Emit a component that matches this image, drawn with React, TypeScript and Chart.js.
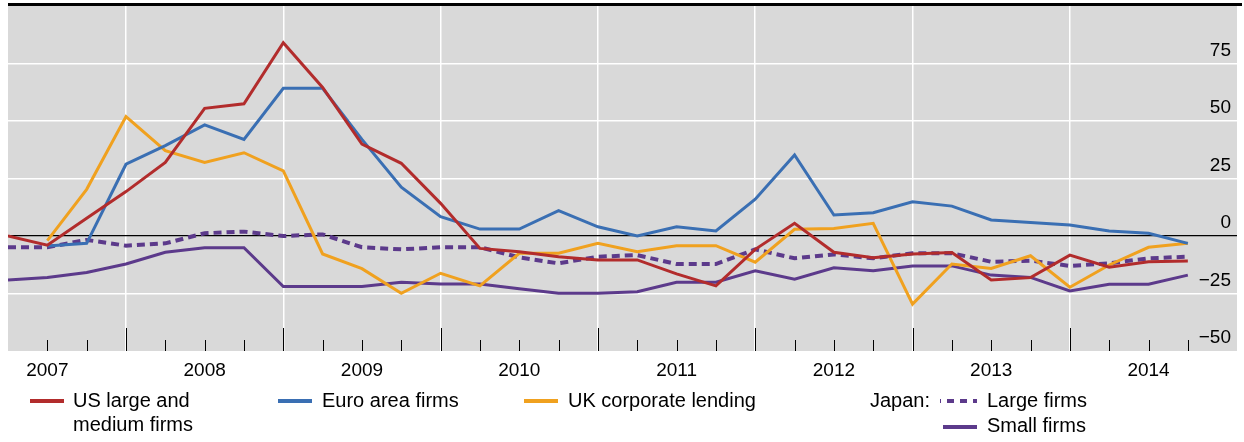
import React, { useEffect, useRef } from 'react';
import { Chart, registerables } from 'chart.js';

Chart.register(...registerables);

// Quarterly observations, 2007 to 2014 (index 0 = first quarter shown)
const yearLabels = ['2007', '2008', '2009', '2010', '2011', '2012', '2013', '2014'];

const usLargeMedium = [
  0, -4, 7.7, 19.3, 32, 55.5, 57.5, 84, 64.6, 40, 31.6,
  14.2, -5.4, -6.8, -9, -10.4, -10.4, -16.5, -21.7, -5.8, 5.5,
  -7.1, -9.4, -7.8, -7.2, -19.1, -18.1, -8.3, -13.6, -11.2, -10.9,
];
const euroAreaFirms = [
  null, -4.3, -3.2, 31.2, 39.3, 48.3, 42, 64.2, 64.2, 42, 21.2,
  8.4, 3, 3, 11, 4, 0, 4, 2.2, 16, 35.2,
  9.1, 10.1, 14.9, 13, 7, 5.9, 4.8, 2.2, 1.2, -3.2,
];
const ukCorporateLending = [
  null, -2, 20.3, 51.9, 37.1, 32, 36.2, 28.3, -7.8, -14.2, -24.9,
  -16.2, -21.7, -7.5, -7.5, -3.2, -6.8, -4.2, -4.2, -11.4, 2.9,
  3.3, 5.5, -29.6, -12.2, -14.1, -8.6, -22.3, -12.6, -4.9, -3.2,
];
const japanLargeFirms = [
  -4.9, -4.9, -1.7, -4.2, -3.2, 1.2, 1.9, 0, 0.7, -4.9, -5.8,
  -4.9, -4.9, -9.3, -11.9, -9, -8.3, -12.2, -12.2, -5.8, -9.7,
  -8, -9.7, -7.5, -7.5, -11.2, -10.7, -13, -11.9, -9.7, -9,
];
const japanSmallFirms = [
  -19.1, -18, -15.9, -12.2, -7.1, -5.1, -5.1, -22, -22, -22, -20.1,
  -20.9, -20.9, -22.9, -24.9, -24.9, -24.2, -20.1, -20.1, -15.1, -18.8,
  -13.8, -15.1, -13, -13, -17, -18, -23.9, -21, -21, -17,
];

const yMin = -50;
const yMax = 100;
const yStep = 25;

const RED = '#b22c2c';
const BLUE = '#3a6fb3';
const ORANGE = '#f0a11f';
const PURPLE = '#5c3a8b';
const FONT = '"Liberation Sans", Arial, Helvetica, sans-serif';

const toPoints = (arr: (number | null)[]) => arr.map((v, i) => ({ x: i, y: v }));

const decorPlugin = {
  id: 'decor',
  beforeDraw(chart: any) {
    const { ctx, chartArea: a } = chart;
    ctx.save();
    ctx.fillStyle = '#d9d9d9';
    ctx.fillRect(a.left, a.top, a.right - a.left, a.bottom - a.top);
    ctx.restore();
  },
  beforeDatasetsDraw(chart: any) {
    const { ctx, chartArea: a } = chart;
    const xs = chart.scales.x;
    ctx.save();
    ctx.strokeStyle = '#000';
    ctx.lineWidth = 1;
    ctx.beginPath();
    for (let i = 1; i < usLargeMedium.length; i++) {
      const px = Math.round(xs.getPixelForValue(i)) + 0.5;
      const len = i % 4 === 3 ? 23 : 11;
      ctx.moveTo(px, a.bottom);
      ctx.lineTo(px, a.bottom - len);
    }
    ctx.stroke();
    ctx.restore();
  },
  afterDraw(chart: any) {
    const { ctx, chartArea: a } = chart;
    ctx.save();
    // top rule
    ctx.fillStyle = '#000';
    ctx.fillRect(a.left, 3, 1242 - a.left, 3);

    // legend
    const swatch = (x1: number, x2: number, y: number, color: string, dash?: number[]) => {
      ctx.beginPath();
      ctx.strokeStyle = color;
      ctx.lineWidth = 4;
      ctx.lineCap = 'butt';
      ctx.setLineDash(dash || []);
      ctx.moveTo(x1, y);
      ctx.lineTo(x2, y);
      ctx.stroke();
      ctx.setLineDash([]);
    };
    ctx.font = `20px ${FONT}`;
    ctx.fillStyle = '#000';
    ctx.textAlign = 'left';
    ctx.textBaseline = 'alphabetic';

    swatch(30, 64, 401, RED);
    ctx.fillText('US large and', 73, 407);
    ctx.fillText('medium firms', 73, 431);

    swatch(278, 312, 401, BLUE);
    ctx.fillText('Euro area firms', 322, 407);

    swatch(524, 558, 401, ORANGE);
    ctx.fillText('UK corporate lending', 568, 407);

    ctx.fillText('Japan:', 870, 407);
    ctx.lineDashOffset = 6;
    swatch(940, 977, 401, PURPLE, [7, 6]);
    ctx.lineDashOffset = 0;
    ctx.fillText('Large firms', 987, 407);

    swatch(943, 977, 427, PURPLE);
    ctx.fillText('Small firms', 987, 432);
    ctx.restore();
  },
};

export default function App() {
  const canvasRef = useRef<HTMLCanvasElement | null>(null);

  useEffect(() => {
    if (!canvasRef.current) return;
    Chart.defaults.font.family = FONT;
    const chart = new Chart(canvasRef.current, {
      type: 'line',
      data: {
        datasets: [
          {
            label: 'US large and medium firms',
            data: toPoints(usLargeMedium),
            borderColor: RED,
            borderWidth: 3,
          },
          {
            label: 'Euro area firms',
            data: toPoints(euroAreaFirms),
            borderColor: BLUE,
            borderWidth: 3,
          },
          {
            label: 'UK corporate lending',
            data: toPoints(ukCorporateLending),
            borderColor: ORANGE,
            borderWidth: 3,
          },
          {
            label: 'Japan: Large firms',
            data: toPoints(japanLargeFirms),
            borderColor: PURPLE,
            borderWidth: 4,
            borderDash: [8, 5],
          },
          {
            label: 'Japan: Small firms',
            data: toPoints(japanSmallFirms),
            borderColor: PURPLE,
            borderWidth: 3,
          },
        ],
      },
      options: {
        animation: false,
        responsive: false,
        maintainAspectRatio: false,
        devicePixelRatio: 1,
        spanGaps: false,
        elements: {
          point: { radius: 0, hoverRadius: 0 },
          line: { tension: 0, fill: false, borderCapStyle: 'butt', borderJoinStyle: 'miter' },
        },
        layout: { padding: { left: 8, right: 7, top: 6, bottom: 0 } },
        plugins: {
          legend: { display: false },
          tooltip: { enabled: false },
          title: { display: false },
        },
        scales: {
          x: {
            type: 'linear',
            min: 0,
            max: 31.25,
            border: { display: false },
            grid: {
              drawTicks: false,
              lineWidth: 1.5,
              color: (ctx: any) =>
                ctx.tick && Number.isInteger(ctx.tick.value) && ctx.tick.value % 4 === 3
                  ? '#ffffff'
                  : 'rgba(0,0,0,0)',
            },
            ticks: {
              stepSize: 1,
              autoSkip: false,
              maxRotation: 0,
              minRotation: 0,
              padding: 8,
              color: '#000',
              font: { size: 19, family: FONT },
              callback: (value: any) => {
                const v = Number(value);
                if (!Number.isInteger(v) || (v - 1) % 4 !== 0) return '';
                return yearLabels[(v - 1) / 4] ?? '';
              },
            },
            afterFit: (scale: any) => {
              scale.height = 91;
              scale.paddingLeft = 0;
              scale.paddingRight = 0;
            },
          },
          y: {
            type: 'linear',
            position: 'right',
            min: yMin,
            max: yMax,
            border: { display: false },
            grid: {
              drawTicks: false,
              lineWidth: (ctx: any) => (ctx.tick && ctx.tick.value === 0 ? 1.2 : 1.5),
              color: (ctx: any) => {
                const v = ctx.tick ? ctx.tick.value : null;
                if (v === 0) return '#000000';
                if (v === yMin || v === yMax) return 'rgba(0,0,0,0)';
                return '#ffffff';
              },
            },
            ticks: {
              stepSize: yStep,
              mirror: true,
              padding: -6,
              labelOffset: -13,
              color: '#000',
              font: { size: 19, family: FONT },
              callback: (value: any) => {
                const v = Number(value);
                if (v >= yMax) return '';
                return v < 0 ? '\u2212' + Math.abs(v) : String(v);
              },
            },
            afterFit: (scale: any) => {
              scale.width = 0;
              scale.paddingTop = 0;
              scale.paddingBottom = 0;
            },
          },
        },
      },
      plugins: [decorPlugin],
    } as any);
    return () => chart.destroy();
  }, []);

  return (
    <div style={{ position: 'absolute', left: 0, top: 0, width: 1244, height: 442, background: '#fff' }}>
      <canvas ref={canvasRef} width={1244} height={442} style={{ display: 'block', width: 1244, height: 442 }} />
    </div>
  );
}
